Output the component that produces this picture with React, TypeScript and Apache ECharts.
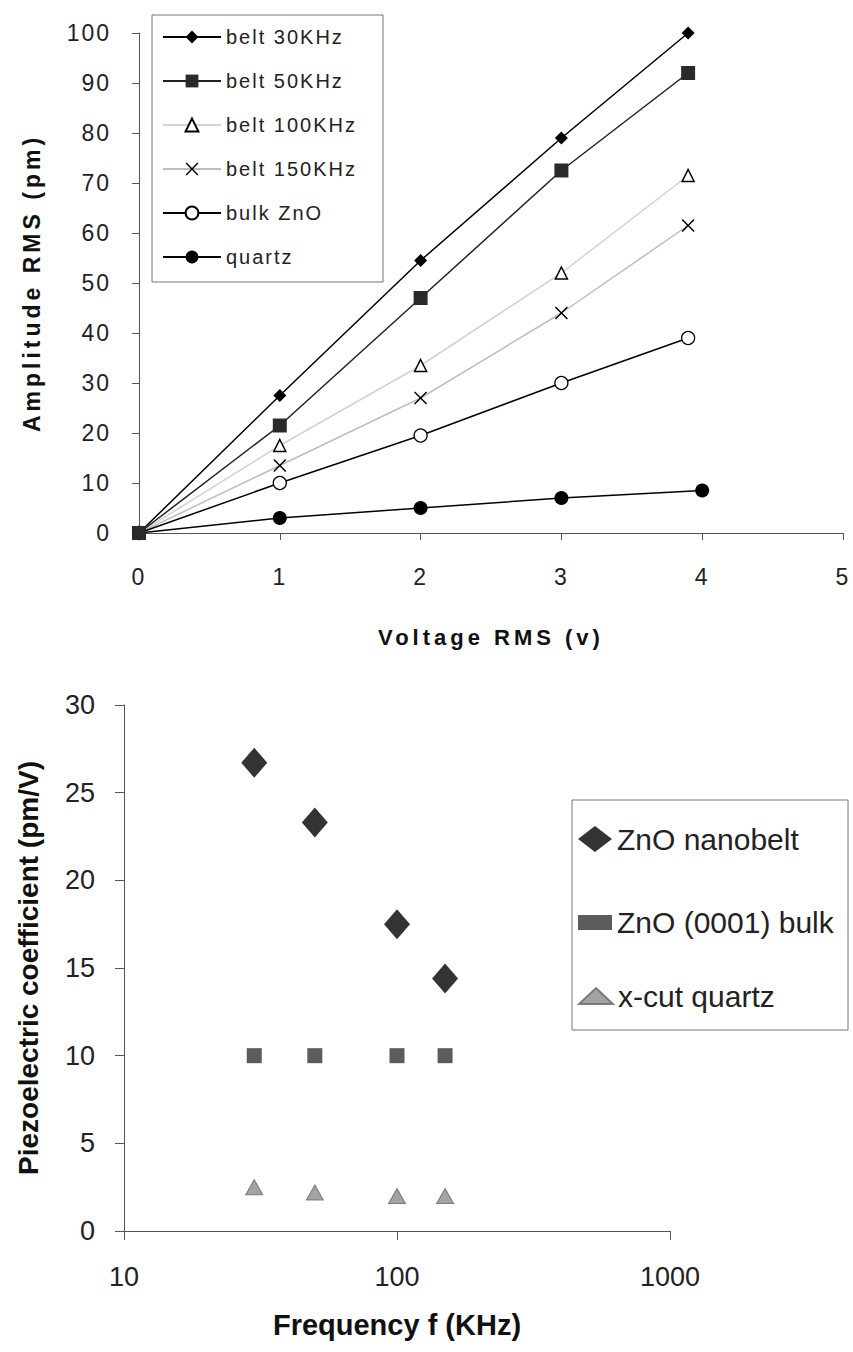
import React, { useEffect, useRef } from "react";
import * as echarts from "echarts";

// ---------- Top chart data ----------
const voltageBelt = [0, 1, 2, 3, 3.9];
const voltageQuartz = [0, 1, 2, 3, 4];
const belt30 = [0, 27.5, 54.5, 79, 100];
const belt50 = [0, 21.5, 47, 72.5, 92];
const belt100 = [0, 17.5, 33.5, 52, 71.5];
const belt150 = [0, 13.5, 27, 44, 61.5];
const bulkZnO = [0, 10, 19.5, 30, 39];
const quartzAmp = [0, 3, 5, 7, 8.5];
const topSeriesNames = ["belt 30KHz", "belt 50KHz", "belt 100KHz", "belt 150KHz", "bulk ZnO", "quartz"];

// ---------- Bottom chart data ----------
const frequency = [30, 50, 100, 150];
const nanobelt = [26.7, 23.3, 17.5, 14.4];
const bulk0001 = [10, 10, 10, 10];
const xcutQuartz = [2.5, 2.2, 2.0, 2.0];
const bottomSeriesNames = ["ZnO nanobelt", "ZnO (0001) bulk", "x-cut quartz"];

const FONT = "'Liberation Sans', Arial, sans-serif";
const X_PATH = "path://M0,8L8,0L50,42L92,0L100,8L58,50L100,92L92,100L50,58L8,100L0,92L42,50Z";

const zip = (xs: number[], ys: number[]) => xs.map((x, i) => [x, ys[i]]);

const css = `
.topc text { letter-spacing: 2px; }
.topc text[style*="bold"] { letter-spacing: 4px; }
`;

export default function App() {
  const topRef = useRef<HTMLDivElement>(null);
  const botRef = useRef<HTMLDivElement>(null);

  useEffect(() => {
    const top = echarts.init(topRef.current!, undefined, { renderer: "svg" });
    const bot = echarts.init(botRef.current!, undefined, { renderer: "svg" });

    const axisLine = { show: true, lineStyle: { color: "#555", width: 1 } };

    top.setOption({
      animation: false,
      backgroundColor: "#fff",
      grid: { left: 139, right: 10, top: 33, height: 500 },
      xAxis: {
        type: "value",
        min: 0,
        max: 5,
        interval: 1,
        axisLine,
        axisTick: { show: true, length: 7, lineStyle: { color: "#555" } },
        splitLine: { show: false },
        axisLabel: { fontSize: 23, fontFamily: FONT, color: "#222", margin: 32 },
        name: "Voltage RMS (v)",
        nameLocation: "middle",
        nameGap: 93,
        nameTextStyle: { fontSize: 22, fontWeight: "bold", fontFamily: FONT, color: "#111" },
      },
      yAxis: {
        type: "value",
        min: 0,
        max: 100,
        interval: 10,
        axisLine,
        axisTick: { show: true, length: 7, lineStyle: { color: "#555" } },
        splitLine: { show: false },
        axisLabel: { fontSize: 23, fontFamily: FONT, color: "#222", margin: 28 },
        name: "Amplitude RMS (pm)",
        nameLocation: "middle",
        nameRotate: 90,
        nameGap: 96,
        nameTextStyle: { fontSize: 23, fontWeight: "bold", fontFamily: FONT, color: "#111" },
      },
      legend: {
        orient: "vertical",
        left: 162,
        top: 27,
        padding: 0,
        itemWidth: 58,
        itemHeight: 16,
        itemGap: 24,
        textStyle: { fontSize: 20, fontFamily: FONT, color: "#222", lineHeight: 20 },
        data: topSeriesNames,
      },
      graphic: [
        {
          type: "rect",
          shape: { x: 152, y: 15, width: 231, height: 267 },
          style: { fill: "none", stroke: "#777", lineWidth: 1 },
          z: -1,
        },
      ],
      series: [
        {
          name: topSeriesNames[0],
          type: "line",
          data: zip(voltageBelt, belt30),
          symbol: "diamond",
          symbolSize: 13,
          lineStyle: { color: "#000", width: 1.5 },
          itemStyle: { color: "#000" },
        },
        {
          name: topSeriesNames[1],
          type: "line",
          data: zip(voltageBelt, belt50),
          symbol: "rect",
          symbolSize: 14,
          z: 5,
          lineStyle: { color: "#222", width: 1.5 },
          itemStyle: { color: "#2a2a2a" },
        },
        {
          name: topSeriesNames[2],
          type: "line",
          data: zip(voltageBelt, belt100),
          symbol: "triangle",
          symbolSize: 12,
          lineStyle: { color: "#d2d2d2", width: 1.5 },
          itemStyle: { color: "#fff", borderColor: "#000", borderWidth: 1.5 },
        },
        {
          name: topSeriesNames[3],
          type: "line",
          data: zip(voltageBelt, belt150),
          symbol: X_PATH,
          symbolSize: 13,
          lineStyle: { color: "#bdbdbd", width: 1.5 },
          itemStyle: { color: "#000" },
        },
        {
          name: topSeriesNames[4],
          type: "line",
          data: zip(voltageBelt, bulkZnO),
          symbol: "circle",
          symbolSize: 13,
          lineStyle: { color: "#000", width: 1.5 },
          itemStyle: { color: "#fff", borderColor: "#000", borderWidth: 1.3 },
        },
        {
          name: topSeriesNames[5],
          type: "line",
          data: zip(voltageQuartz, quartzAmp),
          symbol: "circle",
          symbolSize: 14,
          lineStyle: { color: "#000", width: 1.5 },
          itemStyle: { color: "#000" },
        },
      ],
    });

    const legendText = { fontSize: 30, fontFamily: FONT, color: "#222", lineHeight: 32 };

    bot.setOption({
      animation: false,
      backgroundColor: "#fff",
      grid: { left: 124, right: 183, top: 45, height: 526 },
      xAxis: {
        type: "log",
        logBase: 10,
        min: 10,
        max: 1000,
        axisLine,
        axisTick: { show: true, length: 9, lineStyle: { color: "#555" } },
        minorTick: { show: false },
        splitLine: { show: false },
        axisLabel: {
          fontSize: 27,
          fontFamily: FONT,
          color: "#222",
          margin: 32,
          formatter: (v: number) => String(Math.round(v)),
        },
        name: "Frequency f (KHz)",
        nameLocation: "middle",
        nameGap: 79,
        nameTextStyle: { fontSize: 29, fontWeight: "bold", fontFamily: FONT, color: "#111" },
      },
      yAxis: {
        type: "value",
        min: 0,
        max: 30,
        interval: 5,
        axisLine,
        axisTick: { show: true, length: 9, lineStyle: { color: "#555" } },
        splitLine: { show: false },
        axisLabel: { fontSize: 27, fontFamily: FONT, color: "#222", margin: 29 },
        name: "Piezoelectric coefficient (pm/V)",
        nameLocation: "middle",
        nameRotate: 90,
        nameGap: 82,
        nameTextStyle: { fontSize: 28, fontWeight: "bold", fontFamily: FONT, color: "#111" },
      },
      legend: [
        {
          left: 578, top: 176 - 13, padding: 0, itemWidth: 34, itemHeight: 26,
          textStyle: legendText, data: [bottomSeriesNames[0]],
        },
        {
          left: 578, top: 254 - 7.5, padding: 0, itemWidth: 34, itemHeight: 15,
          textStyle: legendText, data: [bottomSeriesNames[1]],
        },
        {
          left: 578, top: 328 - 8, padding: 0, itemWidth: 34, itemHeight: 16,
          textStyle: legendText, data: [bottomSeriesNames[2]],
        },
      ],
      graphic: [
        {
          type: "rect",
          shape: { x: 572, y: 140, width: 276, height: 230 },
          style: { fill: "none", stroke: "#777", lineWidth: 1 },
          z: -1,
        },
      ],
      series: [
        {
          name: bottomSeriesNames[0],
          type: "scatter",
          data: zip(frequency, nanobelt),
          symbol: "diamond",
          symbolSize: [26, 30],
          itemStyle: { color: "#000" },
        },
        {
          name: bottomSeriesNames[1],
          type: "scatter",
          data: zip(frequency, bulk0001),
          symbol: "rect",
          symbolSize: 15,
          itemStyle: { color: "#333" },
        },
        {
          name: bottomSeriesNames[2],
          type: "scatter",
          data: zip(frequency, xcutQuartz),
          symbol: "triangle",
          symbolSize: [17, 15],
          itemStyle: { color: "#8c8c8c", borderColor: "#666", borderWidth: 1 },
        },
      ],
    });

    return () => {
      top.dispose();
      bot.dispose();
    };
  }, []);

  return (
    <>
      <style>{css}</style>
      <div
        ref={topRef}
        className="topc"
        style={{ position: "absolute", left: 0, top: 0, width: 853, height: 660 }}
      />
      <div
        ref={botRef}
        style={{ position: "absolute", left: 0, top: 660, width: 853, height: 692 }}
      />
    </>
  );
}
